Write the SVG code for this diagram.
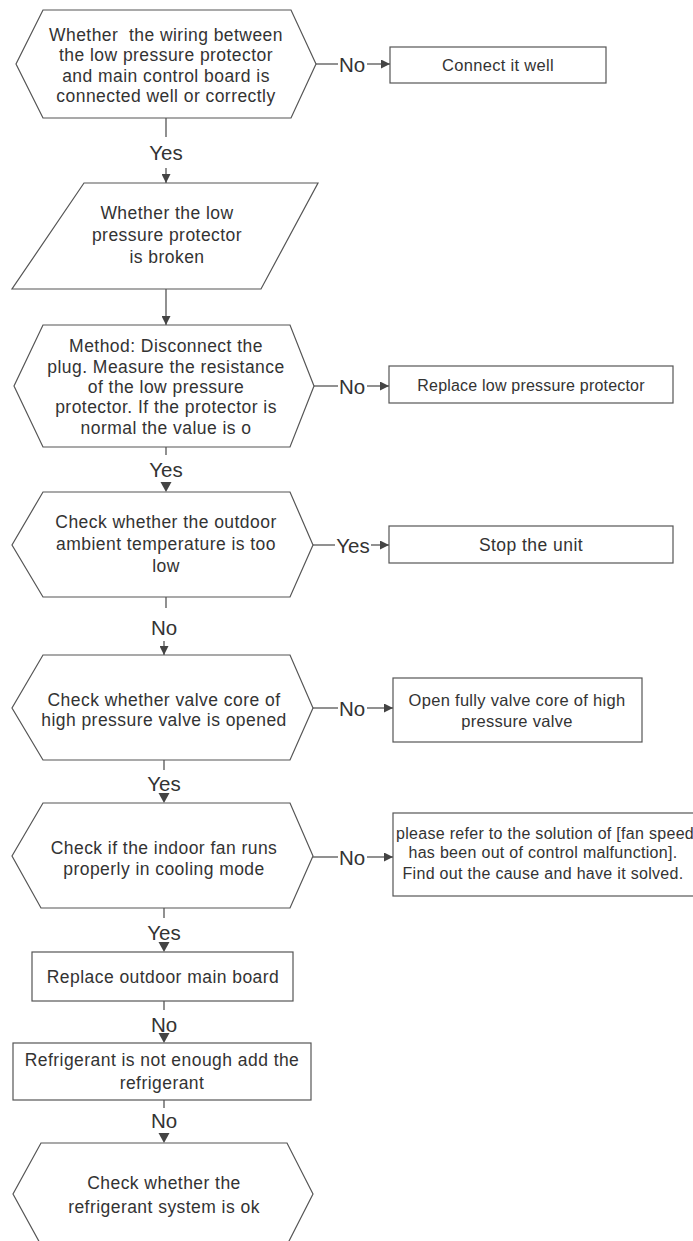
<svg xmlns="http://www.w3.org/2000/svg" width="693" height="1241" viewBox="0 0 693 1241">
<style>
.s{fill:#fff;stroke:#555;stroke-width:1.2}
.t{font-family:"Liberation Sans",Arial,sans-serif;font-size:17.5px;letter-spacing:0.45px;fill:#333;text-anchor:middle;dominant-baseline:central}
.sm{font-size:16px;letter-spacing:0.3px}
.m{font-size:16.5px;letter-spacing:0.3px}
.r{font-size:16px;letter-spacing:0.2px}
.l{font-family:"Liberation Sans",Arial,sans-serif;font-size:20.5px;fill:#333;text-anchor:middle;dominant-baseline:central}
.c{stroke:#555;stroke-width:1.3;fill:none}
.tri{fill:#444}
</style>
<defs>
<marker id="ah" viewBox="0 0 10 10" refX="10" refY="5" markerWidth="9" markerHeight="9" markerUnits="userSpaceOnUse" orient="auto">
<path d="M0,0 L10,5 L0,10 z" fill="#444"/>
</marker>
</defs>
<rect width="693" height="1241" fill="#fff"/>
<g id="connectors">
<line class="c" x1="316" y1="64" x2="338" y2="64"/>
<text class="l" x="352" y="64">No</text>
<line class="c" x1="367" y1="64" x2="390" y2="64" marker-end="url(#ah)"/>
<line class="c" x1="166" y1="118" x2="166" y2="137"/>
<text class="l" x="166" y="152">Yes</text>
<line class="c" x1="166" y1="168" x2="166" y2="183" marker-end="url(#ah)"/>
<line class="c" x1="166" y1="289" x2="166" y2="325" marker-end="url(#ah)"/>
<line class="c" x1="314" y1="386" x2="338" y2="386"/>
<text class="l" x="352" y="386">No</text>
<line class="c" x1="367" y1="386" x2="389" y2="386" marker-end="url(#ah)"/>
<line class="c" x1="166" y1="447" x2="166" y2="455"/>
<text class="l" x="166" y="469">Yes</text>
<path class="tri" d="M160.5,482 L171.5,482 L166,492 z"/>
<line class="c" x1="313" y1="545" x2="335" y2="545"/>
<text class="l" x="353" y="545">Yes</text>
<line class="c" x1="371" y1="545" x2="389" y2="545" marker-end="url(#ah)"/>
<line class="c" x1="166" y1="597" x2="166" y2="608"/>
<text class="l" x="164" y="627">No</text>
<line class="c" x1="164" y1="641" x2="164" y2="655" marker-end="url(#ah)"/>
<line class="c" x1="313" y1="708" x2="338" y2="708"/>
<text class="l" x="352" y="708">No</text>
<line class="c" x1="367" y1="708" x2="393" y2="708" marker-end="url(#ah)"/>
<line class="c" x1="164" y1="760" x2="164" y2="770"/>
<text class="l" x="164" y="783">Yes</text>
<path class="tri" d="M158.5,793 L169.5,793 L164,803 z"/>
<line class="c" x1="313" y1="857" x2="338" y2="857"/>
<text class="l" x="352" y="857">No</text>
<line class="c" x1="367" y1="857" x2="393" y2="857" marker-end="url(#ah)"/>
<line class="c" x1="164" y1="908" x2="164" y2="918"/>
<text class="l" x="164" y="932">Yes</text>
<path class="tri" d="M158.5,942 L169.5,942 L164,952 z"/>
<line class="c" x1="164" y1="1001" x2="164" y2="1010"/>
<text class="l" x="164" y="1024">No</text>
<path class="tri" d="M158.5,1033 L169.5,1033 L164,1043 z"/>
<line class="c" x1="164" y1="1100" x2="164" y2="1108"/>
<text class="l" x="164" y="1120">No</text>
<path class="tri" d="M158.5,1133 L169.5,1133 L164,1143 z"/>
</g>
<g id="n1">
<polygon class="s" points="43,10 291,10 316,64 291,118 43,118 16,64"/>
<text class="t" x="166" y="35">Whether&#160; the wiring between</text>
<text class="t" x="166" y="55">the low pressure protector</text>
<text class="t" x="166" y="75.5">and main control board is</text>
<text class="t" x="166" y="96">connected well or correctly</text>
</g>
<g id="n2">
<rect class="s" x="390" y="47" width="216" height="36"/>
<text class="t m" x="498" y="65">Connect it well</text>
</g>
<g id="n3">
<polygon class="s" points="84,183 318,183 261,289 12,289"/>
<text class="t" x="167" y="213">Whether the low</text>
<text class="t" x="167" y="235">pressure protector</text>
<text class="t" x="167" y="257">is broken</text>
</g>
<g id="n4">
<polygon class="s" points="43,325 290,325 314,386 290,447 43,447 14,386"/>
<text class="t" x="166" y="346">Method: Disconnect the</text>
<text class="t" x="166" y="367">plug. Measure the resistance</text>
<text class="t" x="166" y="387">of the low pressure</text>
<text class="t" x="166" y="407">protector. If the protector is</text>
<text class="t" x="166" y="428">normal the value is o</text>
</g>
<g id="n5">
<rect class="s" x="389" y="366" width="284" height="37"/>
<text class="t r" x="531" y="385">Replace low pressure protector</text>
</g>
<g id="n6">
<polygon class="s" points="43,492 290,492 313,545 290,597 43,597 12,545"/>
<text class="t" x="166" y="522">Check whether the outdoor</text>
<text class="t" x="166" y="544">ambient temperature is too</text>
<text class="t" x="166" y="566">low</text>
</g>
<g id="n7">
<rect class="s" x="389" y="526" width="284" height="37"/>
<text class="t" x="531" y="545">Stop the unit</text>
</g>
<g id="n8">
<polygon class="s" points="43,655 290,655 313,708 290,760 43,760 12,708"/>
<text class="t" x="164" y="700">Check whether valve core of</text>
<text class="t" x="164" y="720">high pressure valve is opened</text>
</g>
<g id="n9">
<rect class="s" x="393" y="678" width="249" height="64"/>
<text class="t m" x="517" y="700">Open fully valve core of high</text>
<text class="t m" x="517" y="721">pressure valve</text>
</g>
<g id="n10">
<polygon class="s" points="43,803 290,803 313,856 290,908 41,908 12,856"/>
<text class="t" x="164" y="848">Check if the indoor fan runs</text>
<text class="t" x="164" y="869">properly in cooling mode</text>
</g>
<g id="n11">
<rect class="s" x="393" y="813" width="310" height="83"/>
<text class="t sm" x="545" y="833">please refer to the solution of [fan speed</text>
<text class="t sm" x="543" y="852">has been out of control malfunction].</text>
<text class="t sm" x="543" y="873">Find out the cause and have it solved.</text>
</g>
<g id="n12">
<rect class="s" x="32" y="952" width="261" height="49"/>
<text class="t" x="163" y="977">Replace outdoor main board</text>
</g>
<g id="n13">
<rect class="s" x="13" y="1043" width="298" height="57"/>
<text class="t" x="162" y="1060">Refrigerant is not enough add the</text>
<text class="t" x="162" y="1083">refrigerant</text>
</g>
<g id="n14">
<polygon class="s" points="41,1143 287,1143 313,1194 287,1245 41,1245 13,1194"/>
<text class="t" x="164" y="1183">Check whether the</text>
<text class="t" x="164" y="1207">refrigerant system is ok</text>
</g>
</svg>
